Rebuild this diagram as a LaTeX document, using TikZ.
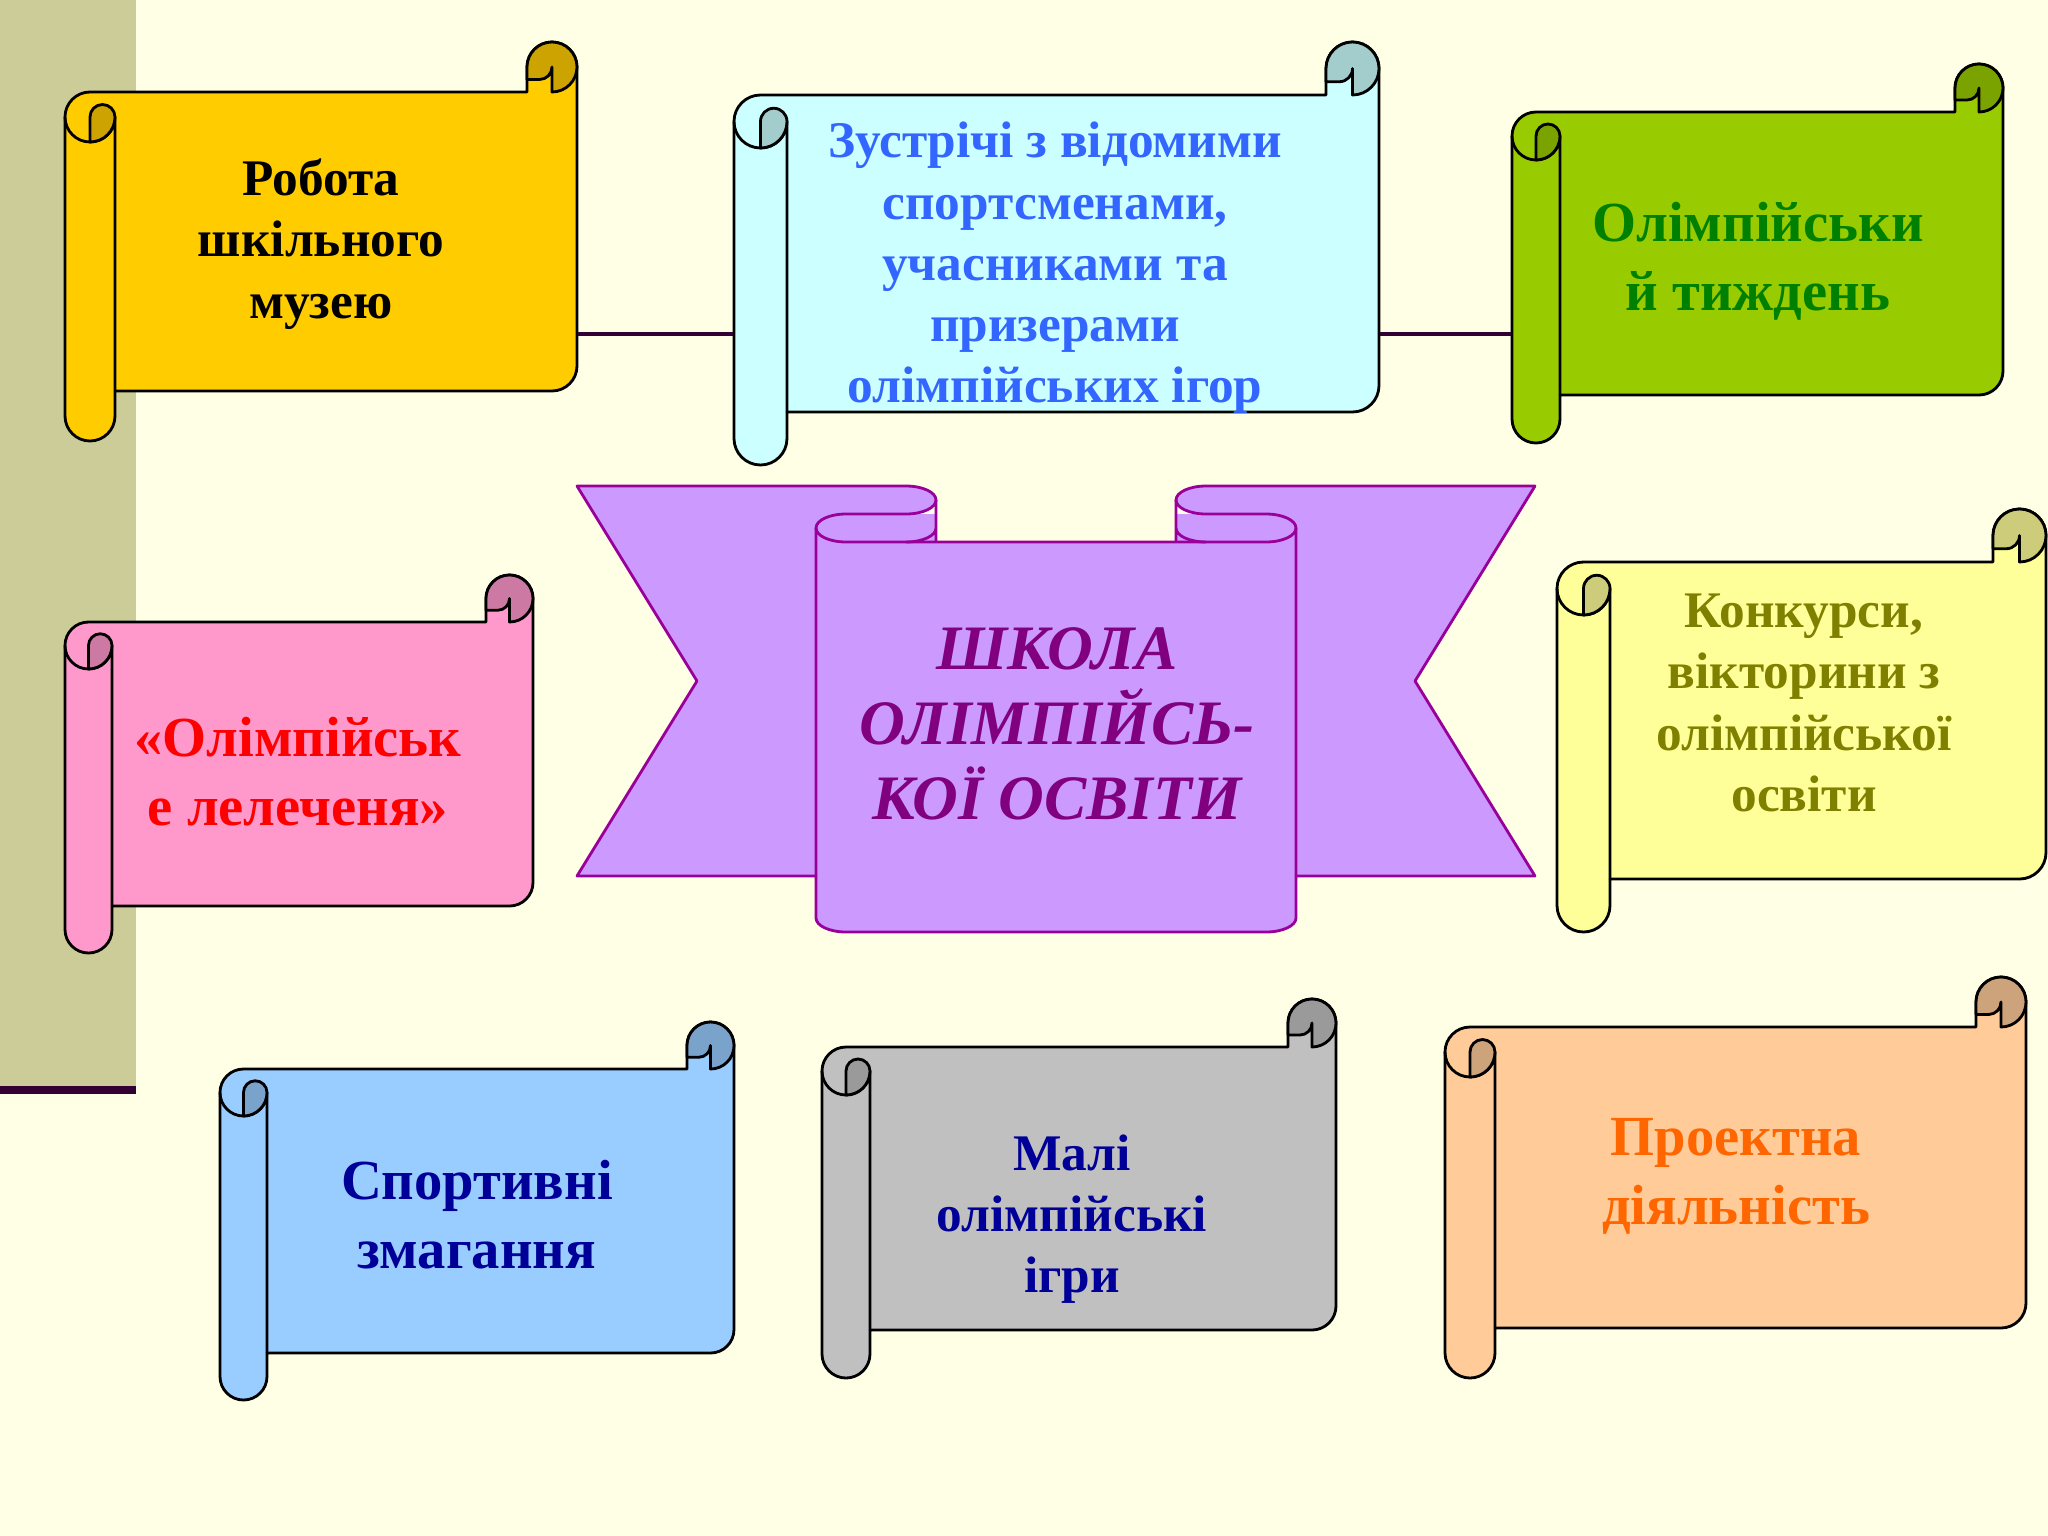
\documentclass[tikz,border=0pt]{standalone}
\usepackage{fontspec}
\setmainfont{Liberation Serif}
\usetikzlibrary{fit}

\definecolor{bgcream}{HTML}{FFFFE5}
\definecolor{stripcol}{HTML}{CCCC99}
\definecolor{plum}{HTML}{330033}
\definecolor{gold}{HTML}{FFCC00}
\definecolor{icecyan}{HTML}{CCFFFF}
\definecolor{leafgreen}{HTML}{99CC00}
\definecolor{rosepink}{HTML}{FF99CC}
\definecolor{paleyellow}{HTML}{FFFF99}
\definecolor{skyblue}{HTML}{99CCFF}
\definecolor{silvergray}{HTML}{C0C0C0}
\definecolor{peach}{HTML}{FFCC99}
\definecolor{lilac}{HTML}{CC99FF}
\definecolor{ribbonedge}{HTML}{990099}
\definecolor{textblue}{HTML}{3366FF}
\definecolor{textgreen}{HTML}{008000}
\definecolor{textolive}{HTML}{808000}
\definecolor{textnavy}{HTML}{000099}
\definecolor{textorange}{HTML}{FF6600}
\definecolor{textpurple}{HTML}{800080}

\tikzset{
  scrollline/.style={draw=black, line width=0.8pt, line join=round},
  ribbonline/.style={draw=ribbonedge, line width=0.8pt, line join=round},
  link/.style={draw=plum, line width=1.2pt},
  scrolltext/.style={align=center, font=\bfseries\fontsize{14.6}{17.4}\selectfont},
  bigtext/.style={align=center, font=\bfseries\fontsize{16.1}{19.6}\selectfont},
  titletext/.style={align=center, text=textpurple, font=\bfseries\itshape\fontsize{18}{21.3}\selectfont},
}

% scroll: left, top, right, bottom, roll size, fill, name
\newcommand{\scrollbox}[7]{%
  \pgfmathsetmacro\pL{#1}\pgfmathsetmacro\pT{#2}%
  \pgfmathsetmacro\pR{#3}\pgfmathsetmacro\pB{#4}%
  \pgfmathsetmacro\pc{#5}\pgfmathsetmacro\ph{#5/2}\pgfmathsetmacro\pq{#5/4}%
  \filldraw[scrollline, fill=#6]
    (\pL,\pT+1.5*\pc) arc[start angle=180, delta angle=90, radius=\ph]
    -- (\pR-\pc,\pT+\pc) -- (\pR-\pc,\pT+\ph)
    arc[start angle=180, delta angle=180, radius=\ph]
    -- (\pR,\pB-1.5*\pc) arc[start angle=0, delta angle=90, radius=\ph]
    -- (\pL+\pc,\pB-\pc) -- (\pL+\pc,\pB-\ph)
    arc[start angle=0, delta angle=180, radius=\ph] -- cycle;
  \draw[scrollline] (\pL,\pT+1.5*\pc) arc[start angle=180, delta angle=-180, radius=\ph]
    -- (\pL+\pc,\pB-\pc);
  \filldraw[scrollline, fill=#6!80!black]
    (\pL+\ph,\pT+2*\pc) -- (\pL+\ph,\pT+1.5*\pc)
    arc[start angle=180, delta angle=180, radius=\pq]
    arc[start angle=0, delta angle=90, radius=\ph] -- cycle;
  \filldraw[scrollline, fill=#6!80!black]
    (\pR-\pc,\pT+\ph+\pq) -- (\pR-\pc,\pT+\ph)
    arc[start angle=180, delta angle=180, radius=\ph]
    arc[start angle=0, delta angle=90, radius=\ph]
    -- (\pR-\ph,\pT+\ph) arc[start angle=0, delta angle=90, radius=\pq] -- cycle;
  \node[inner sep=0pt, fit={(\pL,\pT) (\pR,\pB)}] (#7) {};
}

\begin{document}
\begin{tikzpicture}[x=0.01cm, y=-0.01cm]
\useasboundingbox (0,0) rectangle (2048,1536);
\fill[bgcream] (0,0) rectangle (2048,1536);
\fill[stripcol] (0,0) rectangle (136,1088);
\draw[plum, line width=2.2pt] (0,1090) -- (136,1090);

\coordinate (rail) at (0,334);

% scrolls
\scrollbox{65}{42}{577}{441}{50}{gold}{museum}
\scrollbox{734}{42}{1379}{465}{53}{icecyan}{meet}
\scrollbox{1512}{64}{2003}{443}{48}{leafgreen}{week}
\scrollbox{65}{575}{533}{953}{47}{rosepink}{stork}
\scrollbox{1557}{509}{2046}{932}{53}{paleyellow}{contest}
\scrollbox{220}{1022}{734}{1400}{47}{skyblue}{sport}
\scrollbox{822}{999}{1336}{1378}{48}{silvergray}{games}
\scrollbox{1445}{977}{2026}{1378}{50}{peach}{project}

\path[link] (museum.east |- rail) edge (meet.west |- rail);
\path[link] (meet.east |- rail) edge (week.west |- rail);

% central ribbon
\fill[lilac] (846,514) rectangle (936,542) (1176,514) rectangle (1266,542);
\fill[lilac] (846,528) ellipse[x radius=30, y radius=14];
\fill[lilac] (1266,528) ellipse[x radius=30, y radius=14];
\filldraw[ribbonline, fill=lilac]
  (577,486) -- (906,486) arc[start angle=270, delta angle=180, x radius=30, y radius=14]
  -- (846,514) arc[start angle=270, delta angle=-180, x radius=30, y radius=14]
  -- (1266,542) arc[start angle=90, delta angle=-180, x radius=30, y radius=14]
  -- (1206,514) arc[start angle=90, delta angle=180, x radius=30, y radius=14]
  -- (1535,486) -- (1415,681) -- (1535,876) -- (1296,876) -- (1296,918)
  arc[start angle=0, delta angle=90, x radius=30, y radius=14]
  -- (846,932) arc[start angle=90, delta angle=90, x radius=30, y radius=14]
  -- (816,876) -- (577,876) -- (697,681) -- cycle;
\draw[ribbonline] (816,528) -- (816,876) (1296,528) -- (1296,876)
  (936,500) -- (936,542) (1176,500) -- (1176,542)
  (906,542) arc[start angle=90, delta angle=-90, x radius=30, y radius=14]
  (1206,542) arc[start angle=90, delta angle=90, x radius=30, y radius=14];

% texts
\node[scrolltext, text=black] (museumtext) at (321,244) {Робота\\шкільного\\музею};
\node[scrolltext, text=textblue] (meettext) at (1055,268) {Зустрічі з відомими\\спортсменами,\\учасниками та\\призерами\\олімпійських ігор};
\node[bigtext, text=textgreen] (weektext) at (1758,261) {Олімпійськи\\й тиждень};
\node[bigtext, text=red] (storktext) at (298,772) {«Олімпійськ\\е лелеченя»};
\node[scrolltext, text=textolive] (contesttext) at (1804,703) {Конкурси,\\вікторини з\\олімпійської\\освіти};
\node[bigtext, text=textnavy] (sporttext) at (477,1215) {Спортивні\\змагання};
\node[scrolltext, text=textnavy] (gamestext) at (1072,1219) {Малі\\олімпійські\\ігри};
\node[bigtext, text=textorange] (projecttext) at (1736,1176) {Проектна\\діяльність};
\node[titletext] (school) at (1057,724) {ШКОЛА\\ОЛІМПІЙСЬ-\\КОЇ ОСВІТИ};

\end{tikzpicture}
\end{document}
